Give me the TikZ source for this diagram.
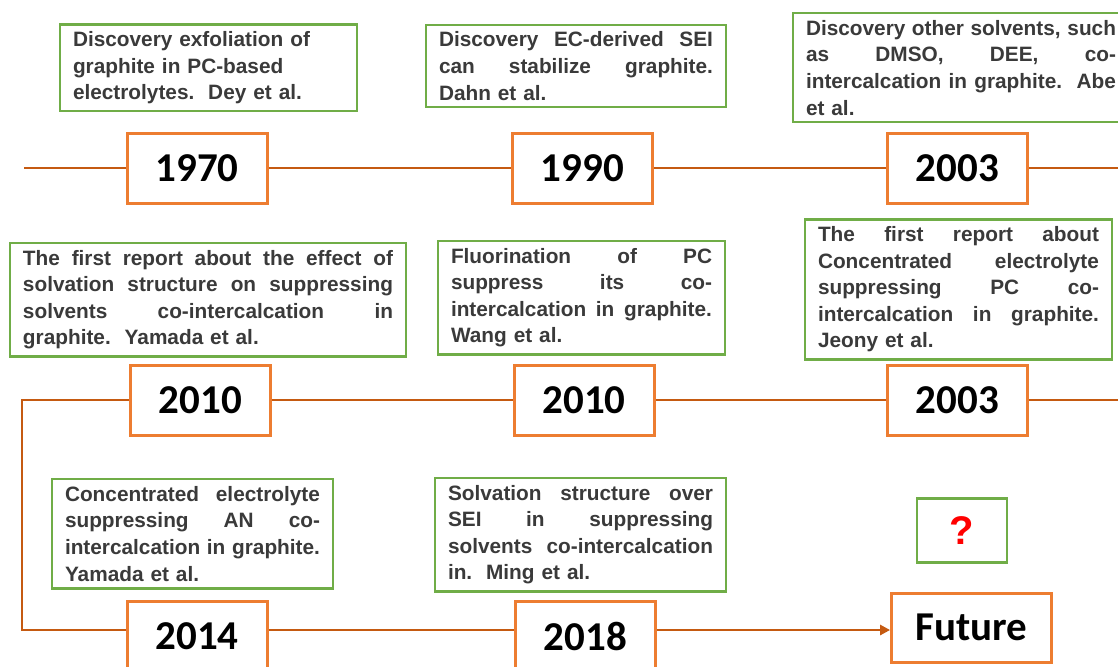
\documentclass[tikz,border=0pt]{standalone}
\usepackage{fontspec}
\usepackage{xcolor}
\usepackage{tikz}
\usetikzlibrary{positioning}
\usetikzlibrary{arrows.meta}
\newfontfamily\notefont{Liberation Sans}
\newfontfamily\yearfont{Carlito}
\definecolor{boxorange}{HTML}{ED7D31}
\definecolor{boxgreen}{HTML}{70AD47}
\definecolor{linkorange}{HTML}{C55A11}
\definecolor{notegray}{HTML}{3A3A3A}
\newcommand{\notewidth}{0pt}
\newcommand{\jline}[1]{\leavevmode\hbox to \notewidth{\spaceskip=0.278em plus 1fil\relax #1}\\}
\hbadness=10000
\begin{document}
\begin{tikzpicture}[x=1pt, y=-1pt,
    year/.style = {draw=boxorange, line width=3pt, minimum width=140pt, minimum height=70pt, inner xsep=24pt,
                   font=\yearfont\bfseries\fontsize{41}{41}\selectfont},
    note/.style = {draw=boxgreen, line width=2.5pt, inner xsep=13pt, inner ysep=7pt, align=left, text=notegray,
                   text width=#1, execute at begin node={\def\notewidth{#1}},
                   font=\notefont\bfseries\fontsize{20.8}{26.6}\selectfont},
    note/.default = 100pt,
    link/.style = {draw=linkorange, line width=2.7pt}]
    \useasboundingbox (0,0) rectangle (1118,666);
    \clip (0,0) rectangle (1118,666);
    \fill[white] (0,0) rectangle (1118,666);

    % years
    \node[year] (y1970) at (197,168) {1970};
    \node[year] (y1990) at (582.5,168) {1990};
    \node[year] (y2003) at (957.5,168) {2003};
    \node[year] (y2010a) at (200.5,400) {2010};
    \node[year] (y2010b) at (584,400) {2010};
    \node[year] (y2003b) at (957.5,400) {2003};
    \node[year] (y2014) at (197,636) {2014};
    \node[year] (y2018) at (585.5,636) {2018};
    \node[year, minimum height=69pt] (future) at (971.5,627.5) {Future};

    % notes
    \node[note=271pt] (n1970) [above = 19pt of y1970, xshift=11.5pt]
        {Discovery exfoliation of\\ graphite in PC-based\\ electrolytes.\ \ Dey et al.};
    \node[note=274pt] (n1990) [above = 23pt of y1990, xshift=-6.5pt]
        {\jline{Discovery EC-derived SEI}\jline{can stabilize graphite.}Dahn et al.};
    \node[note=310pt] (n2003) [above = 8pt of y2003, xshift=3.5pt]
        {\jline{Discovery other solvents, such}\jline{as DMSO, DEE, co-}\jline{intercalcation in graphite.\ \ Abe}et al.};
    \node[note=370pt] (n2010a) [above = 6pt of y2010a, xshift=7.5pt]
        {\jline{The first report about the effect of}\jline{solvation structure on suppressing}\jline{solvents co-intercalcation in}graphite.\ \ Yamada et al.};
    \node[note=261pt] (n2010b) [above = 8pt of y2010b, xshift=-2.5pt]
        {\jline{Fluorination of PC}\jline{suppress its co-}\jline{intercalcation in graphite.}Wang et al.};
    \node[note=281pt] (n2003b) [above = 3pt of y2003b, xshift=1pt]
        {\jline{The first report about}\jline{Concentrated electrolyte}\jline{suppressing PC co-}\jline{intercalcation in graphite.}Jeony et al.};
    \node[note=255pt] (n2014) [above = 10pt of y2014, xshift=-4.5pt]
        {\jline{Concentrated electrolyte}\jline{suppressing AN co-}\jline{intercalcation in graphite.}Yamada et al.};
    \node[note=265pt] (n2018) [above = 7pt of y2018, xshift=-5pt]
        {\jline{Solvation structure over}\jline{SEI in suppressing}\jline{solvents co-intercalcation}in.\ \ Ming et al.};
    \node[draw=boxgreen, line width=2.5pt, minimum width=90pt, minimum height=64pt, inner sep=0pt, text=red,
          font=\notefont\bfseries\fontsize{40}{40}\selectfont] (qmark) [above = 28pt of future, xshift=-9.5pt] {?};

    % timeline
    \coordinate (s1) at (24,168);
    \coordinate (e1) at (1130,168);
    \coordinate (e2) at (1130,400);
    \coordinate (c2) at (22,400);
    \coordinate (c3) at (22,630);
    \begin{scope}[link]
        \draw (s1) -- (y1970);
        \draw (y1970) -- (y1990);
        \draw (y1990) -- (y2003);
        \draw (y2003) -- (e1);
        \draw (e2) -- (y2003b);
        \draw (y2003b) -- (y2010b);
        \draw (y2010b) -- (y2010a);
        \draw (y2010a) -- (c2) |- (c3 -| y2014.west);
        \draw (c3 -| y2014.east) -- (c3 -| y2018.west);
        \draw[-{Triangle[length=10pt,width=10pt]}] (c3 -| y2018.east) -- (c3 -| future.west);
    \end{scope}
\end{tikzpicture}
\end{document}
